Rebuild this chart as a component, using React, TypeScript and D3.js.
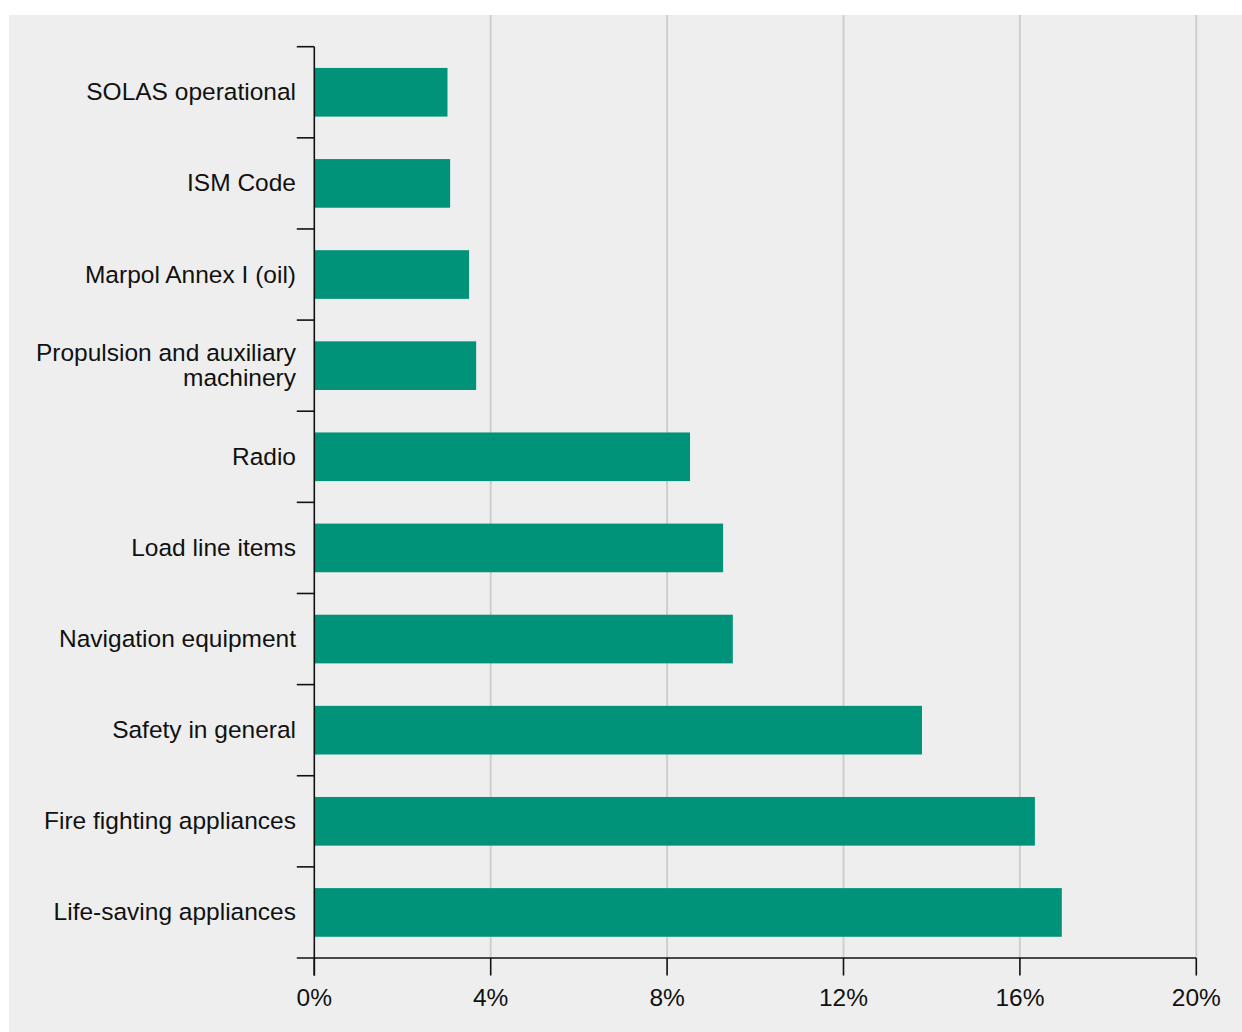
import React from "react";
import * as d3 from "d3";

const categories: string[][] = [
  ["SOLAS operational"],
  ["ISM Code"],
  ["Marpol Annex I (oil)"],
  ["Propulsion and auxiliary", "machinery"],
  ["Radio"],
  ["Load line items"],
  ["Navigation equipment"],
  ["Safety in general"],
  ["Fire fighting appliances"],
  ["Life-saving appliances"],
];
const values: number[] = [3.02, 3.08, 3.51, 3.67, 8.52, 9.27, 9.49, 13.78, 16.34, 16.95];
const xTicks: number[] = [0, 4, 8, 12, 16, 20];

const W = 1242;
const H = 1032;
const BG = "#eeeeee";
const BAR = "#00937a";
const INK = "#111111";
const FONT = "'Liberation Sans', Arial, sans-serif";
const FS = 24.5;

export default function App() {
  const x = d3.scaleLinear().domain([0, 20]).range([314.3, 1196.3]);
  const keys = categories.map((c) => c.join(" "));
  const y = d3.scaleBand<string>().domain(keys).range([46.7, 958]).padding(0);
  const bw = y.bandwidth();
  const barH = bw * 0.534;
  const tickLen = 17.5;
  const axisY = 958;
  const x0 = x(0);
  const lh = 25;

  return (
    <svg
      width={W}
      height={H}
      style={{ position: "absolute", left: 0, top: 0 }}
      fontFamily={FONT}
    >
      <rect x={9} y={15} width={W - 9} height={H - 15} fill={BG} />
      {xTicks.slice(1).map((t) => (
        <line key={"g" + t} x1={x(t)} x2={x(t)} y1={15} y2={axisY} stroke="#cfcfcf" strokeWidth={2} />
      ))}
      {values.map((v, i) => {
        const yc = (y(keys[i]) as number) + bw / 2;
        return (
          <rect key={"b" + i} x={x0} y={yc - barH / 2} width={x(v) - x0} height={barH} fill={BAR} />
        );
      })}
      <line x1={x0} x2={x0} y1={46.7} y2={axisY + tickLen} stroke={INK} strokeWidth={1.6} />
      {keys.map((k) => (
        <line key={"yt" + k} x1={x0 - tickLen} x2={x0} y1={y(k) as number} y2={y(k) as number} stroke={INK} strokeWidth={1.6} />
      ))}
      <line x1={x0 - tickLen} x2={x(20)} y1={axisY} y2={axisY} stroke={INK} strokeWidth={1.6} />
      {categories.map((lines, i) => {
        const yc = (y(keys[i]) as number) + bw / 2;
        if (lines.length === 1) {
          return (
            <text key={"l" + i} x={296} y={yc + 8} textAnchor="end" fontSize={FS} fill={INK}>
              {lines[0]}
            </text>
          );
        }
        return (
          <text key={"l" + i} x={296} textAnchor="end" fontSize={FS} fill={INK}>
            {lines.map((ln, j) => (
              <tspan key={j} x={296} y={yc + 8 - (lh / 2) * (lines.length - 1) + lh * j}>
                {ln}
              </tspan>
            ))}
          </text>
        );
      })}
      {xTicks.map((t) => (
        <g key={"xt" + t}>
          <line x1={x(t)} x2={x(t)} y1={axisY} y2={axisY + tickLen} stroke={INK} strokeWidth={1.6} />
          <text x={x(t)} y={1006} textAnchor="middle" fontSize={FS} fill={INK}>
            {t + "%"}
          </text>
        </g>
      ))}
    </svg>
  );
}
